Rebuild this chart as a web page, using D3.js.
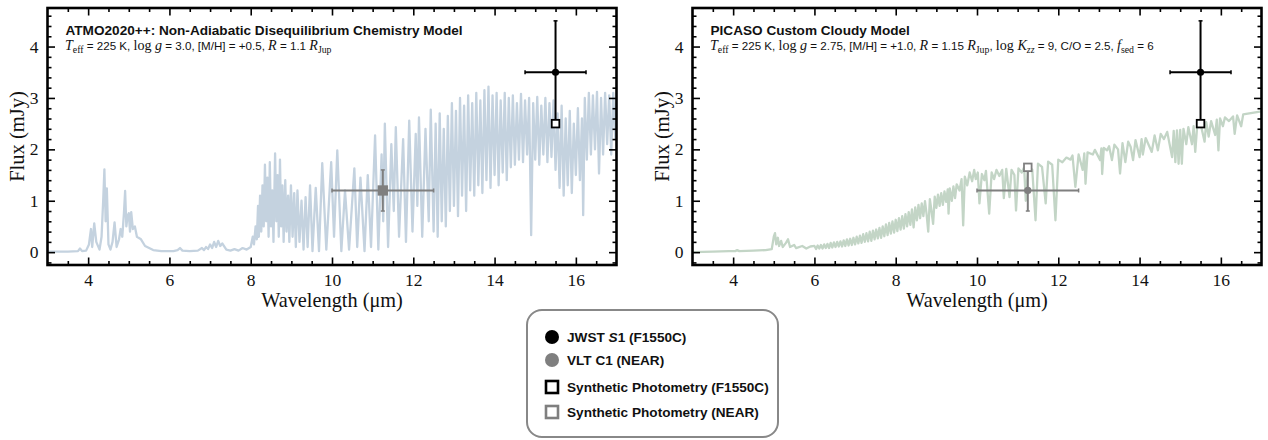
<!DOCTYPE html>
<html>
<head>
<meta charset="utf-8">
<script src="https://cdn.jsdelivr.net/npm/d3@7"></script>
<style>
  body { margin: 0; background: #fff; }
  text { white-space: pre; }
</style>
</head>
<body>
<div id="wrapper"></div>
<script>
// ---- data ----
const xTicks = [4, 6, 8, 10, 12, 14, 16]
const yTicks = [0, 1, 2, 3, 4]

// ATMO2020++ model spectrum [wavelength (um), flux (mJy)]
const atmoSpectrum = [
  [3.0,0.01],[3.5,0.01],[3.75,0.02],[3.8,0.07],[3.85,0.02],[3.95,0.03],[4.02,0.15],[4.07,0.45],[4.1,0.1],[4.15,0.56],
  [4.2,0.2],[4.28,0.05],[4.33,0.3],[4.37,1.0],[4.4,1.61],[4.43,0.6],[4.46,1.24],[4.5,0.15],[4.55,0.05],[4.6,0.2],
  [4.65,0.58],[4.7,0.1],[4.76,0.25],[4.8,0.45],[4.84,0.3],[4.88,0.75],[4.91,1.19],[4.94,0.5],[4.97,0.7],[5.0,0.76],
  [5.03,0.4],[5.06,0.78],[5.1,0.45],[5.15,0.5],[5.2,0.3],[5.3,0.25],[5.4,0.12],[5.5,0.08],[5.6,0.04],[5.8,0.02],
  [6.1,0.02],[6.2,0.04],[6.26,0.08],[6.32,0.03],[6.5,0.02],[6.7,0.03],[6.8,0.08],[6.85,0.04],[6.9,0.1],[6.95,0.06],
  [7.0,0.15],[7.05,0.08],[7.1,0.2],[7.15,0.1],[7.2,0.22],[7.25,0.12],[7.3,0.17],[7.4,0.05],[7.5,0.03],[7.6,0.06],
  [7.7,0.03],[7.8,0.08],[7.9,0.05],[8.0,0.1],
  [8.05,0.3],[8.08,0.15],[8.12,0.5],[8.15,0.25],[8.18,0.9],[8.2,0.3],[8.23,1.1],[8.26,0.4],[8.29,1.3],[8.32,0.5],
  [8.35,1.7],[8.38,0.6],[8.41,1.45],[8.44,0.3],[8.47,1.75],[8.5,0.5],[8.53,1.2],[8.56,0.2],[8.6,1.92],[8.63,0.6],
  [8.66,1.5],[8.69,0.3],[8.72,1.8],[8.75,0.5],[8.78,1.3],[8.81,0.2],[8.85,1.4],[8.88,0.4],[8.92,1.1],[8.95,0.2],
  [8.99,1.3],[9.03,0.3],[9.07,1.15],[9.11,0.1],[9.15,1.2],[9.2,0.2],[9.25,1.0],[9.3,0.05],[9.35,1.07],[9.4,0.1],
  [9.46,1.3],[9.52,0.02],
  [9.6,1.25],[9.68,0.02],[9.76,1.73],[9.86,0.05],[9.98,1.75],[10.05,0.3],[10.13,1.98],[10.23,0.02],[10.32,1.2],[10.42,0.05],
  [10.55,1.63],[10.62,0.1],[10.7,1.45],[10.8,0.02],[10.88,1.5],[10.96,0.1],[11.06,2.27],[11.14,0.05],[11.22,1.9],[11.26,0.6],
  [11.3,2.5],[11.38,0.1],[11.46,2.1],[11.52,0.8],[11.57,2.43],[11.65,0.3],[11.75,2.2],[11.82,0.2],[11.9,2.56],[11.98,0.4],
  [12.06,2.3],[12.1,0.9],[12.14,2.62],[12.22,0.3],[12.3,2.4],[12.38,0.6],[12.43,2.77],
  [12.5,0.4],[12.55,2.5],[12.6,0.3],[12.65,2.7],[12.7,0.6],[12.75,2.4],[12.8,0.5],[12.85,2.65],[12.9,0.8],[12.95,2.9],
  [13.0,0.9],[13.05,2.75],[13.1,0.7],[13.15,3.0],[13.2,1.1],[13.25,2.85],[13.3,0.8],[13.35,3.05],[13.4,1.2],[13.45,2.9],
  [13.5,1.1],[13.55,3.1],[13.6,1.3],[13.65,2.95],[13.7,1.15],[13.75,3.15],[13.8,1.4],[13.85,3.22],[13.9,1.25],[13.95,3.05],
  [14.0,1.5],[14.05,3.1],[14.1,1.3],[14.15,2.95],[14.2,1.55],[14.25,3.1],[14.3,1.4],[14.35,3.0],[14.4,1.65],[14.45,3.05],
  [14.5,1.7],[14.55,2.9],[14.6,1.8],[14.65,3.08],[14.7,1.75],[14.75,2.95],[14.8,1.9],[14.85,3.0],[14.9,0.33],[14.95,2.9],
  [15.0,1.8],[15.05,3.02],[15.1,1.7],[15.15,2.85],[15.2,1.9],[15.25,3.0],[15.3,1.75],[15.35,2.9],[15.4,1.85],[15.45,2.95],
  [15.5,1.6],[15.55,2.7],[15.6,1.25],[15.65,2.85],[15.7,1.1],[15.75,2.6],[15.8,1.3],[15.85,2.75],[15.9,1.15],[15.95,2.5],
  [16.0,1.5],[16.05,2.8],[16.1,1.4],[16.15,2.6],[16.18,0.72],[16.22,3.0],[16.27,1.8],[16.32,3.1],[16.37,1.9],[16.42,3.05],
  [16.47,2.0],[16.52,3.12],[16.57,1.53],[16.62,3.0],[16.67,1.9],[16.72,3.1],[16.77,2.1],[16.82,3.05],[16.87,1.9],[16.92,3.1],
  [16.97,2.2],[17.0,3.0]
]

// PICASO cloudy model spectrum [wavelength (um), flux (mJy)]
const picasoSpectrum = [
  [3.0,0.0],[3.5,0.01],[3.9,0.02],[4.05,0.02],[4.1,0.04],[4.15,0.02],[4.5,0.03],[4.8,0.04],[4.95,0.06],[5.0,0.3],
  [5.03,0.37],[5.06,0.15],[5.1,0.28],[5.13,0.12],[5.18,0.22],[5.22,0.1],[5.3,0.18],[5.35,0.25],[5.4,0.1],[5.5,0.14],
  [5.55,0.08],[5.7,0.12],[5.8,0.07],[5.9,0.11],
  [6.0,0.12],[6.04,0.06],[6.08,0.13],[6.12,0.07],[6.16,0.14],[6.2,0.07],[6.24,0.15],[6.28,0.08],[6.32,0.16],[6.36,0.08],
  [6.4,0.18],[6.44,0.09],[6.48,0.19],[6.52,0.1],[6.56,0.2],[6.6,0.11],[6.64,0.21],[6.68,0.11],[6.72,0.23],[6.76,0.12],
  [6.8,0.25],[6.84,0.13],[6.88,0.26],[6.92,0.14],[6.96,0.28],[7.0,0.15],[7.04,0.3],[7.08,0.17],[7.12,0.32],[7.16,0.18],
  [7.2,0.35],[7.24,0.2],[7.28,0.37],[7.32,0.21],[7.36,0.4],[7.4,0.22],[7.44,0.42],[7.48,0.25],[7.52,0.44],[7.56,0.27],
  [7.6,0.47],[7.64,0.28],[7.68,0.5],[7.72,0.31],[7.76,0.54],[7.8,0.33],[7.84,0.57],[7.88,0.36],[7.92,0.6],[7.96,0.38],
  [8.0,0.63],[8.04,0.41],[8.08,0.66],[8.12,0.44],[8.16,0.7],[8.2,0.46],[8.24,0.74],[8.28,0.5],[8.32,0.78],[8.36,0.53],
  [8.4,0.83],[8.44,0.48],[8.48,0.87],[8.52,0.62],[8.56,0.92],[8.6,0.66],[8.64,0.95],[8.68,0.7],[8.72,0.99],[8.76,0.74],
  [8.8,0.4],[8.84,1.03],[8.88,0.8],[8.92,0.55],[8.96,1.08],[9.0,0.86],[9.04,1.12],[9.08,0.9],[9.12,1.15],[9.16,0.92],
  [9.2,1.18],[9.24,0.98],[9.28,1.22],[9.3,0.75],[9.33,1.24],[9.38,1.0],[9.42,1.28],[9.46,1.05],[9.5,1.32],
  [9.57,1.2],
  [9.62,1.42],[9.66,0.52],[9.7,1.47],[9.76,1.3],[9.82,1.55],[9.88,1.38],[9.93,1.6],[9.97,1.42],[10.02,1.55],[10.06,0.95],
  [10.12,1.52],[10.18,1.4],[10.22,1.58],[10.3,0.75],[10.36,1.55],[10.42,1.42],[10.48,1.6],[10.55,1.48],[10.62,1.6],[10.66,1.05],
  [10.72,1.62],[10.8,1.07],[10.85,1.6],[10.92,1.5],[10.96,0.81],[11.02,1.63],[11.1,1.55],[11.16,1.65],[11.2,1.0],[11.26,1.68],
  [11.36,1.6],[11.44,0.62],[11.5,1.72],[11.6,1.66],[11.69,0.95],[11.75,1.76],[11.85,1.7],[11.93,0.62],[12.0,1.8],[12.1,1.75],
  [12.2,1.84],[12.3,1.8],[12.35,1.88],[12.42,1.27],[12.5,1.9],[12.6,1.6],[12.64,1.92],[12.67,1.33],[12.72,1.94],[12.85,1.9],
  [12.9,1.99],[13.03,1.79],[13.06,2.02],[13.08,1.52],[13.12,2.03],[13.2,1.98],[13.25,2.06],[13.32,1.79],[13.38,2.09],[13.47,2.0],
  [13.52,1.53],[13.58,2.12],[13.65,1.75],[13.72,2.15],[13.78,2.05],[13.84,1.79],[13.9,2.18],[14.0,1.85],[14.05,2.2],[14.08,1.9],
  [14.15,2.22],[14.3,1.95],[14.37,2.27],[14.45,1.98],[14.52,2.3],[14.6,2.2],[14.68,2.34],[14.8,1.85],[14.84,2.36],[14.88,1.75],
  [14.92,2.37],[14.96,1.72],[15.0,2.38],[15.04,1.72],[15.08,2.4],[15.15,2.1],[15.2,2.43],[15.29,2.1],[15.33,2.45],[15.37,1.95],
  [15.42,2.48],[15.5,2.5],[15.6,2.15],[15.64,2.53],[15.7,2.25],[15.76,2.55],[15.86,2.28],[15.9,2.58],[15.94,1.98],[15.98,2.6],
  [16.05,2.45],[16.1,2.62],[16.2,2.55],[16.3,2.64],[16.34,2.3],[16.4,2.66],[16.5,2.45],[16.55,2.68],[16.7,2.7],[16.85,2.72],
  [17.0,2.74]
]

// photometry
const jwstS1 = { wave: 15.5, waveErr: 0.75, flux: 3.5, fluxErr: 1.0 }
const vltC1 = { wave: 11.25, waveErr: 1.25, flux: 1.2, fluxErr: 0.4 }
const atmoSynthetic = { f1550c: 2.5, near: 1.2 }
const picasoSynthetic = { f1550c: 2.5, near: 1.65 }

const atmoTitle = "ATMO2020++: Non-Adiabatic Disequilibrium Chemistry Model"
const picasoTitle = "PICASO Custom Cloudy Model"
const atmoParams = [
  ["T", "it"], ["eff", "sub"], [" = 225 K, ", "sans"], ["log ", "rm"], ["g", "it"],
  [" = 3.0, [M/H] = +0.5, ", "sans"], ["R", "it"], [" = 1.1 ", "sans"], ["R", "it"], ["Jup", "sub"]
]
const picasoParams = [
  ["T", "it"], ["eff", "sub"], [" = 225 K, ", "sans"], ["log ", "rm"], ["g", "it"],
  [" = 2.75, [M/H] = +1.0, ", "sans"], ["R", "it"], [" = 1.15 ", "sans"], ["R", "it"], ["Jup", "sub"],
  [", ", "sans"], ["log ", "rm"], ["K", "it"], ["zz", "subit"], [" = 9, C/O = 2.5, ", "sans"], ["f", "it"], ["sed", "sub"],
  [" = 6", "sans"]
]
const legendLabels = [
  [["JWST ", "b"], ["S", "bi"], ["1 (F1550C)", "b"]],
  [["VLT C1 (NEAR)", "b"]],
  [["Synthetic Photometry (F1550C)", "b"]],
  [["Synthetic Photometry (NEAR)", "b"]]
]

// ---- drawing ----
const serif = "'Liberation Serif', 'DejaVu Serif', serif"
const sans = "'Liberation Sans', Arial, sans-serif"
const black = "#000"
const grey = "#7f7f7f"

const dimensions = {
  width: 1268,
  height: 440,
  boundedWidth: 569,
  boundedHeight: 257,
  top: 8
}

const svg = d3.select("#wrapper")
  .append("svg")
    .attr("width", dimensions.width)
    .attr("height", dimensions.height)
    .style("display", "block")

function richText(sel, x, y, parts, sizes) {
  const text = sel.append("text").attr("x", x).attr("y", y).attr("fill", "#111")
  let shifted = 0
  parts.forEach(([str, kind]) => {
    const ts = text.append("tspan").text(str)
    const isSub = kind === "sub" || kind === "subit"
    const want = isSub ? sizes.shift : 0
    if (want !== shifted) { ts.attr("dy", want - shifted); shifted = want }
    if (kind === "sans") ts.attr("font-family", sans).attr("font-size", sizes.sans)
    if (kind === "b") ts.attr("font-family", sans).attr("font-size", sizes.sans).attr("font-weight", "bold")
    if (kind === "bi") ts.attr("font-family", sans).attr("font-size", sizes.sans).attr("font-weight", "bold").attr("font-style", "italic")
    if (kind === "rm") ts.attr("font-family", serif).attr("font-size", sizes.serif)
    if (kind === "it") ts.attr("font-family", serif).attr("font-size", sizes.serif).attr("font-style", "italic")
    if (kind === "sub") ts.attr("font-family", serif).attr("font-size", sizes.sub)
    if (kind === "subit") ts.attr("font-family", serif).attr("font-size", sizes.sub).attr("font-style", "italic")
  })
  return text
}

function drawPanel(left, spectrum, colour, synthetic, title, params, clipId) {
  const w = dimensions.boundedWidth
  const h = dimensions.boundedHeight
  const bounds = svg.append("g")
      .attr("transform", `translate(${left},${dimensions.top})`)

  const xScale = d3.scaleLinear().domain([3, 17]).range([0, w])
  const yScale = d3.scaleLinear().domain([-0.25, 4.75]).range([h, 0])

  bounds.append("clipPath").attr("id", clipId)
    .append("rect").attr("width", w).attr("height", h)

  const lineGenerator = d3.line()
    .x(d => xScale(d[0]))
    .y(d => yScale(d[1]))

  bounds.append("path")
      .attr("clip-path", `url(#${clipId})`)
      .attr("d", lineGenerator(spectrum))
      .attr("fill", "none")
      .attr("stroke", colour)
      .attr("stroke-width", 2.3)
      .attr("stroke-linejoin", "round")

  // error bars
  const errorBar = (p, colour) => {
    const g = bounds.append("g").attr("stroke", colour).attr("stroke-width", 2)
    const cx = xScale(p.wave), cy = yScale(p.flux)
    const x0 = xScale(p.wave - p.waveErr), x1 = xScale(p.wave + p.waveErr)
    const y0 = yScale(p.flux - p.fluxErr), y1 = yScale(p.flux + p.fluxErr)
    g.append("line").attr("x1", x0).attr("x2", x1).attr("y1", cy).attr("y2", cy)
    g.append("line").attr("x1", cx).attr("x2", cx).attr("y1", y0).attr("y2", y1)
    g.append("line").attr("x1", x0).attr("x2", x0).attr("y1", cy - 2).attr("y2", cy + 2).attr("stroke-width", 1.5)
    g.append("line").attr("x1", x1).attr("x2", x1).attr("y1", cy - 2).attr("y2", cy + 2).attr("stroke-width", 1.5)
    g.append("line").attr("x1", cx - 2).attr("x2", cx + 2).attr("y1", y0).attr("y2", y0).attr("stroke-width", 1.5)
    g.append("line").attr("x1", cx - 2).attr("x2", cx + 2).attr("y1", y1).attr("y2", y1).attr("stroke-width", 1.5)
    bounds.append("circle").attr("cx", cx).attr("cy", cy).attr("r", 3.6).attr("fill", colour)
  }
  errorBar(vltC1, grey)
  errorBar(jwstS1, black)

  const square = (wave, flux, colour, size) => {
    const hidden = colour === grey && synthetic.near === vltC1.flux
    bounds.append("rect")
      .attr("x", xScale(wave) - size / 2).attr("y", yScale(flux) - size / 2)
      .attr("width", size).attr("height", size)
      .attr("fill", hidden ? colour : "#fff")
      .attr("stroke", colour).attr("stroke-width", 1.8)
  }
  square(vltC1.wave, synthetic.near, grey, synthetic.near === vltC1.flux ? 8.5 : 7.6)
  square(jwstS1.wave, synthetic.f1550c, black, 7.6)

  // axes: major + minor ticks on all four sides, pointing inward
  const minorX = d3.range(3.5, 17, 0.5).filter(v => v % 2 !== 0)
  const minorY = d3.range(-0.2, 4.75, 0.2).filter(v => Math.abs(v - Math.round(v)) > 0.01)
  const tickStyle = g => {
    g.select(".domain").remove()
    g.selectAll(".tick line").attr("stroke", black).attr("stroke-width", 1.6)
    g.selectAll(".tick text")
      .attr("font-family", serif).attr("font-size", 17.5).attr("fill", "#111")
  }
  const axes = [
    [d3.axisBottom(xScale), `translate(0,${h})`, xTicks, minorX, true],
    [d3.axisTop(xScale), null, xTicks, minorX, false],
    [d3.axisLeft(yScale), null, yTicks, minorY, true],
    [d3.axisRight(yScale), `translate(${w},0)`, yTicks, minorY, false]
  ]
  axes.forEach(([gen, tr, major, minor, labelled]) => {
    bounds.append("g").attr("transform", tr)
      .call(gen.tickValues(minor).tickSizeInner(-4).tickSizeOuter(0).tickFormat(""))
      .call(tickStyle)
    bounds.append("g").attr("transform", tr)
      .call(gen.tickValues(major).tickSizeInner(-7.5).tickSizeOuter(0).tickPadding(9)
        .tickFormat(labelled ? d3.format("d") : ""))
      .call(tickStyle)
  })

  bounds.append("rect")
      .attr("width", w).attr("height", h)
      .attr("fill", "none").attr("stroke", black).attr("stroke-width", 2.6)

  // labels
  bounds.append("text")
      .attr("x", 18).attr("y", 27)
      .attr("font-family", sans).attr("font-size", 13.6).attr("font-weight", "bold")
      .attr("fill", "#111")
      .text(title)
  richText(bounds, 17.5, 42, params, { sans: 11.6, serif: 14.1, sub: 9.8, shift: 2.6 })

  bounds.append("text")
      .attr("x", w / 2).attr("y", h + 42)
      .attr("text-anchor", "middle")
      .attr("font-family", serif).attr("font-size", 20.3).attr("fill", "#111")
      .text("Wavelength (\u03BCm)")
  bounds.append("text")
      .attr("transform", `translate(-24,${h / 2}) rotate(-90)`)
      .attr("text-anchor", "middle")
      .attr("font-family", serif).attr("font-size", 20.5).attr("fill", "#111")
      .text("Flux (mJy)")
}

drawPanel(47.5, atmoSpectrum, "#c4d2df", atmoSynthetic, atmoTitle, atmoParams, "clipAtmo")
drawPanel(692.5, picasoSpectrum, "#c3d5c6", picasoSynthetic, picasoTitle, picasoParams, "clipPicaso")

// legend
const legend = svg.append("g").attr("transform", "translate(527,310)")
legend.append("rect")
    .attr("width", 251).attr("height", 127).attr("rx", 15)
    .attr("fill", "#fff").attr("stroke", "#888").attr("stroke-width", 2)
const rowY = [27, 50, 77, 102]
const markers = [
  g => g.append("circle").attr("r", 7).attr("fill", black),
  g => g.append("circle").attr("r", 7).attr("fill", grey),
  g => g.append("rect").attr("x", -6).attr("y", -6).attr("width", 12).attr("height", 12)
        .attr("fill", "#fff").attr("stroke", black).attr("stroke-width", 2.6),
  g => g.append("rect").attr("x", -6).attr("y", -6).attr("width", 12).attr("height", 12)
        .attr("fill", "#fff").attr("stroke", grey).attr("stroke-width", 2.6)
]
legendLabels.forEach((parts, i) => {
  markers[i](legend.append("g").attr("transform", `translate(25,${rowY[i]})`))
  richText(legend, 40, rowY[i] + 4.8, parts, { sans: 13.6, serif: 13, sub: 9, shift: 0 })
})
</script>
</body>
</html>
